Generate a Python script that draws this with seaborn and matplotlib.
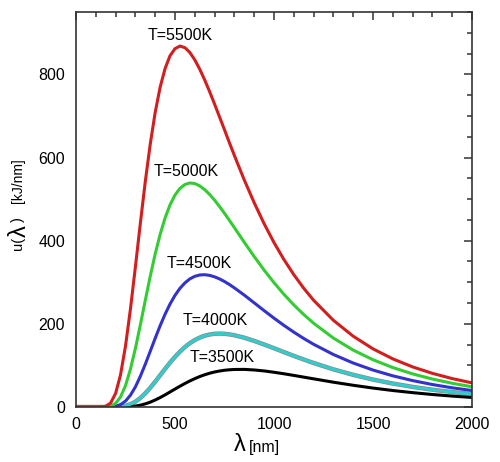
import pandas as pd
import matplotlib
matplotlib.use('Agg')
import matplotlib.pyplot as plt
import seaborn as sns
from matplotlib.ticker import MultipleLocator

# wavelength grid [nm] and spectral energy density [kJ/nm]
wavelength = [0, 100, 125, 150, 175, 200, 225, 250, 275, 300, 325, 350, 375, 400, 425, 450,
              475, 500, 525, 550, 575, 600, 625, 650, 675, 700, 725, 750, 775, 800,
              850, 900, 950, 1000, 1050, 1100, 1150, 1200,
              1300, 1400, 1500, 1600, 1700, 1800, 1900, 2000]
u_5500 = [0, 0, 0.1, 1.8, 9.8, 32.7, 77.6, 146.6, 235.7, 337.1, 441.9, 542.4, 632.4, 708.7,
          769.3, 814.3, 845.0, 861.8, 868.1, 864.3, 852.7, 834.9, 812.5, 786.6, 758.3, 728.4,
          697.5, 666.8, 635.3, 604.8, 545.9, 491.3, 441.0, 395.5, 354.8, 318.4, 285.8, 256.8,
          208.5, 170.3, 139.9, 115.8, 96.5, 81.0, 68.4, 58.1]
u_5000 = [0, 0, 0, 0.3, 2.2, 8.8, 24.3, 51.5, 91.1, 140.9, 197.6, 256.7, 314.6, 368.2,
          415.3, 454.8, 486.3, 509.8, 525.9, 535.1, 538.9, 537.4, 531.8, 522.8, 511.2, 497.4,
          482.1, 465.9, 448.8, 431.4, 396.2, 361.9, 329.4, 299.1, 271.1, 245.6, 222.5, 201.6,
          165.8, 136.9, 113.7, 94.9, 79.7, 67.3, 57.1, 48.7]
u_4500 = [0, 0, 0, 0, 0.4, 1.8, 5.9, 14.3, 28.5, 48.5, 73.9, 102.9, 134.1, 165.4,
          195.6, 223.3, 247.8, 268.5, 285.5, 298.5, 308.2, 314.3, 317.6, 318.2, 316.6, 313.1,
          308.1, 301.8, 294.6, 286.5, 269.1, 250.5, 231.9, 213.7, 196.4, 180.1, 164.9, 150.9,
          126.3, 105.8, 88.9, 75.0, 63.6, 54.1, 46.2, 39.7]
u_4000 = [0, 0, 0, 0, 0, 0.2, 1.0, 2.9, 6.7, 12.8, 21.6, 32.9, 46.2, 60.9,
          76.4, 91.8, 106.8, 120.6, 133.2, 144.2, 153.5, 161.1, 167.0, 171.5, 174.4, 176.1,
          176.6, 176.1, 174.7, 172.6, 166.7, 159.0, 150.4, 141.4, 132.1, 123.0, 114.3, 105.9,
          90.6, 77.4, 66.0, 56.5, 48.4, 41.6, 35.9, 31.1]
u_3500 = [0, 0, 0, 0, 0, 0, 0.1, 0.4, 1.0, 2.3, 4.4, 7.6, 11.7, 16.9,
          22.8, 29.3, 36.2, 43.2, 50.0, 56.6, 62.7, 68.3, 73.3, 77.6, 81.3, 84.3,
          86.6, 88.4, 89.6, 90.3, 90.5, 89.1, 86.8, 83.6, 80.0, 76.0, 71.9, 67.8,
          59.7, 52.3, 45.6, 39.7, 34.6, 30.1, 26.3, 23.0]

temps = ['T=5500K', 'T=5000K', 'T=4500K', 'T=4000K', 'T=3500K']
colors = ['#d21e1e', '#33cc33', '#3333cc', '#33cccc', '#000000']
label_x = [525, 556, 621, 702, 737]
label_y = [894, 567, 346, 207, 120]

series = [u_5500, u_5000, u_4500, u_4000, u_3500]
df = pd.concat([pd.DataFrame({'lam': wavelength, 'u': vals, 'T': t})
                for t, vals in zip(temps, series)], ignore_index=True)

sns.set_style('white')
plt.rcParams['font.family'] = ['Liberation Sans', 'DejaVu Sans']
plt.rcParams['text.color'] = 'black'
plt.rcParams['xtick.color'] = '#333333'
plt.rcParams['ytick.color'] = '#333333'
plt.rcParams['xtick.labelcolor'] = 'black'
plt.rcParams['ytick.labelcolor'] = 'black'

fig = plt.figure(figsize=(5, 4.62), dpi=100)
ax = fig.add_axes([0.152, 0.119, 0.792, 0.855])

# grey rim under the cyan curve
sns.lineplot(data=df[df['T'] == 'T=4000K'], x='lam', y='u', color='#8a8a8a', lw=3.2, ax=ax,
             legend=False, errorbar=None)
sns.lineplot(data=df, x='lam', y='u', hue='T', hue_order=temps[::-1],
             palette=dict(zip(temps, colors)), lw=2.2, ax=ax, legend=False, errorbar=None)

for t, lx, ly in zip(temps, label_x, label_y):
    ax.text(lx, ly, t, fontsize=11.5, ha='center', va='center')

ax.set_xlim(0, 2000)
ax.set_ylim(0, 950)
ax.xaxis.set_major_locator(MultipleLocator(500))
ax.xaxis.set_minor_locator(MultipleLocator(100))
ax.yaxis.set_major_locator(MultipleLocator(200))
ax.yaxis.set_minor_locator(MultipleLocator(50))
ax.tick_params(which='both', direction='in', top=True, right=True, width=1.1)
ax.tick_params(which='major', length=6, labelsize=11.5)
ax.tick_params(axis='y', which='major', pad=8)
ax.tick_params(axis='x', which='major', pad=7)
ax.tick_params(which='minor', length=3.5)
for s in ax.spines.values():
    s.set_linewidth(1.2)
    s.set_color('#333333')
ax.set_xlabel('')
ax.set_ylabel('')

# axis titles with a large lambda
fig.text(0.48, 0.037, 'λ', fontsize=17, ha='center', va='center')
fig.text(0.498, 0.031, '[nm]', fontsize=11.5, ha='left', va='center')
fig.text(0.036, 0.472, 'u(', fontsize=10.5, rotation=90, ha='center', va='center')
fig.text(0.039, 0.500, 'λ', fontsize=17, rotation=90, ha='center', va='center')
fig.text(0.036, 0.525, ')', fontsize=10.5, rotation=90, ha='center', va='center')
fig.text(0.036, 0.608, '[kJ/nm]', fontsize=10, rotation=90, ha='center', va='center')

fig.savefig('out.png', dpi=100)
